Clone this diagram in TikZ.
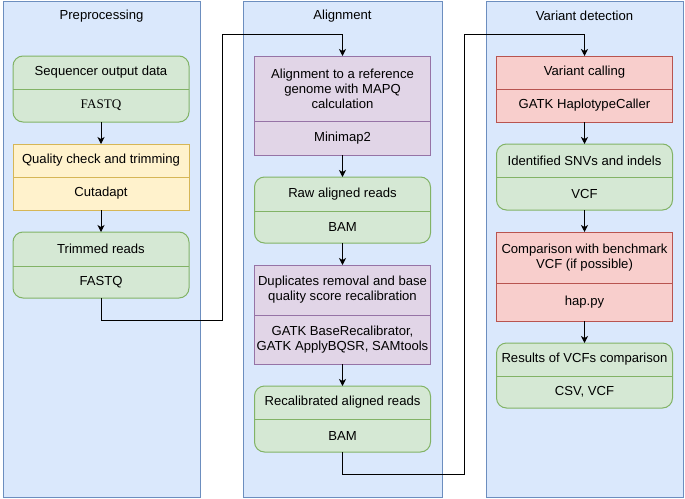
\documentclass[tikz,border=0pt]{standalone}
\usepackage{fontspec}
\setmainfont{Liberation Sans}
\newfontfamily\serifx{Liberation Serif}
\usetikzlibrary{arrows.meta}
\definecolor{panelF}{HTML}{DAE8FC}
\definecolor{panelD}{HTML}{6C8EBF}
\definecolor{grF}{HTML}{D5E8D4}
\definecolor{grD}{HTML}{82B366}
\definecolor{yeF}{HTML}{FFF2CC}
\definecolor{yeD}{HTML}{D6B656}
\definecolor{puF}{HTML}{E1D5E7}
\definecolor{puD}{HTML}{9673A6}
\definecolor{reF}{HTML}{F8CECC}
\definecolor{reD}{HTML}{B85450}
\tikzset{
  panel/.style={draw=panelD, fill=panelF, line width=1pt, minimum width=197pt, minimum height=496pt, inner sep=0pt, outer sep=0pt},
  ptitle/.style={font=\fontsize{13.1}{15}\selectfont, inner sep=0pt},
  gbox/.style={draw=grD, fill=grF, rounded corners=10pt, line width=1pt, minimum width=176pt, inner sep=0pt, outer sep=0pt},
  gbox line/.style={draw=grD, line width=1pt},
  ybox/.style={draw=yeD, fill=yeF, line width=1pt, minimum width=176pt, inner sep=0pt, outer sep=0pt},
  ybox line/.style={draw=yeD, line width=1pt},
  pbox/.style={draw=puD, fill=puF, line width=1pt, minimum width=176pt, inner sep=0pt, outer sep=0pt},
  pbox line/.style={draw=puD, line width=1pt},
  rbox/.style={draw=reD, fill=reF, line width=1pt, minimum width=176pt, inner sep=0pt, outer sep=0pt},
  rbox line/.style={draw=reD, line width=1pt},
  txt/.style={font=\fontsize{13.1}{15}\selectfont, align=center, inner sep=0pt},
  conn/.style={draw=black, line width=1pt, -{Stealth[length=7pt,width=7pt,inset=2pt]}},
}
\newcommand\twobox[8]{%
  \pgfmathsetmacro\tbH{#6-#4}%
  \pgfmathsetmacro\tbC{(#4+#6)/2}%
  \pgfmathsetmacro\tbT{(#4+#5)/2}%
  \pgfmathsetmacro\tbB{(#5+#6)/2}%
  \node[#2, minimum height=\tbH pt] (#1) at (#3,\tbC) {};
  \draw[#2 line] (#3-88,#5) -- (#3+88,#5);
  \node[txt] (#1t) at (#3,\tbT) {#7};
  \node[txt] (#1b) at (#3,\tbB) {#8};
}
\begin{document}
\begin{tikzpicture}[x=1pt,y=-1pt]
\useasboundingbox (0,0) rectangle (685,498);
% panels
\node[panel] (pre) at (101.5,249) {};
\node[panel, minimum width=199pt] (ali) at (342.5,249) {};
\node[panel] (var) at (584.5,249) {};
\node[ptitle] (preT) at (101.5,16) {Preprocessing};
\node[ptitle] (aliT) at (342.5,16) {Alignment};
\node[ptitle] (varT) at (584.5,16) {Variant detection};
% left
\twobox{seq}{gbox}{101}{56}{89}{122}{Sequencer output data}{{\serifx FASTQ}}
\twobox{qc}{ybox}{101}{144}{177}{210}{Quality check and trimming}{Cutadapt}
\twobox{trim}{gbox}{101}{232}{266}{298}{Trimmed reads}{FASTQ}
% middle
\twobox{aln}{pbox}{342.5}{56}{121}{155}{Alignment to a reference\\genome with MAPQ\\calculation}{Minimap2}
\twobox{raw}{gbox}{342.5}{177}{211}{243}{Raw aligned reads}{BAM}
\twobox{dup}{pbox}{342.5}{265}{315}{364}{Duplicates removal and base\\quality score recalibration}{GATK BaseRecalibrator,\\GATK ApplyBQSR, SAMtools}
\twobox{rec}{gbox}{342.5}{386}{419}{452}{Recalibrated aligned reads}{BAM}
% right
\twobox{vc}{rbox}{584.5}{56}{89}{122}{Variant calling}{GATK HaplotypeCaller}
\twobox{snv}{gbox}{584.5}{144}{177}{210}{Identified SNVs and indels}{VCF}
\twobox{cmp}{rbox}{584.5}{232}{283}{321}{Comparison with benchmark\\VCF (if possible)}{hap.py}
\twobox{res}{gbox}{584.5}{343}{376}{408}{Results of VCFs comparison}{CSV, VCF}
% connectors
\draw[conn] (seq.south) -- (qc.north);
\draw[conn] (qc.south) -- (trim.north);
\draw[conn] (aln.south) -- (raw.north);
\draw[conn] (raw.south) -- (dup.north);
\draw[conn] (dup.south) -- (rec.north);
\draw[conn] (vc.south) -- (snv.north);
\draw[conn] (snv.south) -- (cmp.north);
\draw[conn] (cmp.south) -- (res.north);
\coordinate (j1) at (222,320);
\coordinate (j2) at (222,34);
\draw[conn] (trim.south) |- (j1) -- (j2) -| (aln.north);
\coordinate (k1) at (464,474);
\coordinate (k2) at (464,34);
\draw[conn] (rec.south) |- (k1) -- (k2) -| (vc.north);
\end{tikzpicture}
\end{document}
